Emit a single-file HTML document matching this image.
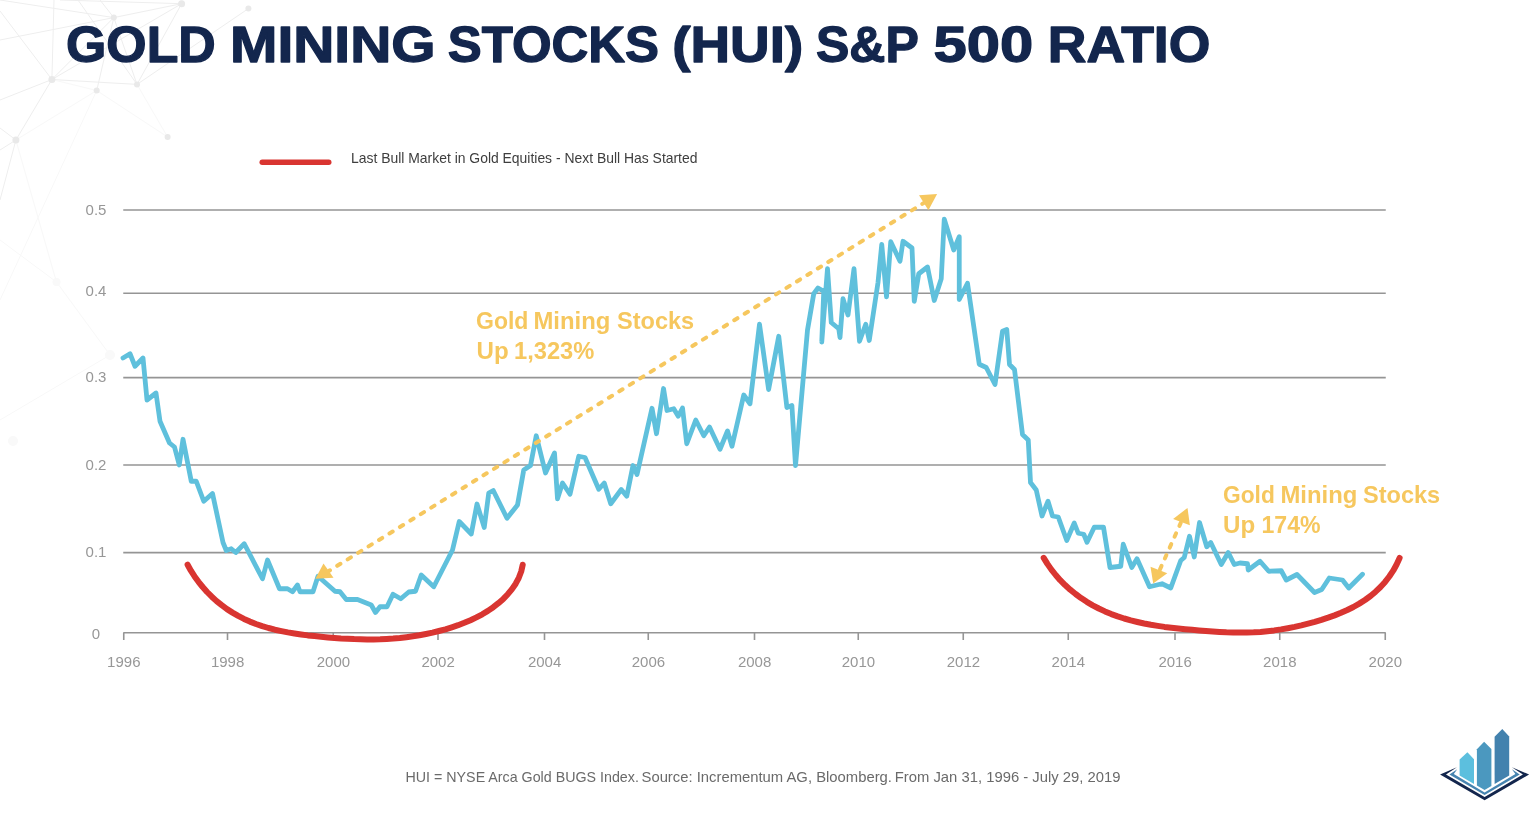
<!DOCTYPE html>
<html lang="en">
<head>
<meta charset="utf-8">
<title>Gold Mining Stocks (HUI) S&amp;P 500 Ratio</title>
<style>
html,body{margin:0;padding:0;background:#ffffff;}
body{width:1536px;height:817px;position:relative;overflow:hidden;font-family:"Liberation Sans",sans-serif;}
</style>
</head>
<body>
<svg width="1536" height="817" viewBox="0 0 1536 817" style="position:absolute;left:0;top:0">
<g stroke="#eeeeee" stroke-width="1" fill="none">
<line x1="181.6" y1="3.7" x2="113.8" y2="17.6"/>
<line x1="181.6" y1="3.7" x2="137.0" y2="84.4"/>
<line x1="181.6" y1="3.7" x2="51.9" y2="79.5"/>
<line x1="113.8" y1="17.6" x2="51.9" y2="79.5"/>
<line x1="113.8" y1="17.6" x2="137.0" y2="84.4"/>
<line x1="51.9" y1="79.5" x2="137.0" y2="84.4"/>
<line x1="51.9" y1="79.5" x2="15.9" y2="140.0"/>
<line x1="248.4" y1="8.6" x2="137.0" y2="84.4"/>
<line x1="113.8" y1="17.6" x2="96.7" y2="90.5"/>
<line x1="0.0" y1="11.0" x2="51.9" y2="79.5"/>
<line x1="0.0" y1="100.0" x2="51.9" y2="79.5"/>
<line x1="54.0" y1="0.0" x2="51.9" y2="79.5"/>
<line x1="0.0" y1="200.0" x2="15.9" y2="140.0"/>
<line x1="0.0" y1="128.0" x2="15.9" y2="140.0"/>
<line x1="0.0" y1="150.0" x2="15.9" y2="140.0"/>
<line x1="0.0" y1="0.0" x2="113.8" y2="17.6"/>
<line x1="100.0" y1="0.0" x2="113.8" y2="17.6"/>
<line x1="60.0" y1="0.0" x2="181.6" y2="3.7"/>
<line x1="0.0" y1="40.0" x2="113.8" y2="17.6"/>
<line x1="78.0" y1="0.0" x2="137.0" y2="84.4"/>
</g>
<g stroke="#f8f8f8" stroke-width="1" fill="none">
<line x1="96.7" y1="90.5" x2="167.6" y2="137.0"/>
<line x1="51.9" y1="79.5" x2="96.7" y2="90.5"/>
<line x1="15.9" y1="140.0" x2="96.7" y2="90.5"/>
<line x1="137.0" y1="84.4" x2="167.6" y2="137.0"/>
<line x1="96.7" y1="90.5" x2="0" y2="300"/><line x1="56.5" y1="282" x2="0" y2="240"/><line x1="56.5" y1="282" x2="110" y2="355"/><line x1="56.5" y1="282" x2="15.9" y2="140"/><line x1="0" y1="420" x2="110" y2="355"/>
</g>
<g fill="#e9e9e9">
<circle cx="181.6" cy="3.7" r="3.5"/>
<circle cx="248.4" cy="8.6" r="3.0"/>
<circle cx="113.8" cy="17.6" r="3.0"/>
<circle cx="51.9" cy="79.5" r="3.5"/>
<circle cx="15.9" cy="140.0" r="3.5"/>
<circle cx="137.0" cy="84.4" r="3.0"/>
<circle cx="167.6" cy="137.0" r="3.0"/>
<circle cx="96.7" cy="90.5" r="3.0"/>
</g>
<g fill="#f9f9f9"><circle cx="56.5" cy="282" r="4"/><circle cx="110" cy="355" r="5"/><circle cx="13" cy="441" r="5"/></g>
<g stroke="#959595" stroke-width="1.6">
<line x1="123.25" y1="210.00" x2="1385.75" y2="210.00"/>
<line x1="123.25" y1="293.20" x2="1385.75" y2="293.20"/>
<line x1="123.25" y1="377.60" x2="1385.75" y2="377.60"/>
<line x1="123.25" y1="465.00" x2="1385.75" y2="465.00"/>
<line x1="123.25" y1="552.60" x2="1385.75" y2="552.60"/>
<line x1="123.25" y1="632.80" x2="1385.75" y2="632.80"/>
<line x1="123.75" y1="632.8" x2="123.75" y2="640"/>
<line x1="227.50" y1="632.8" x2="227.50" y2="640"/>
<line x1="333.25" y1="632.8" x2="333.25" y2="640"/>
<line x1="438.00" y1="632.8" x2="438.00" y2="640"/>
<line x1="544.50" y1="632.8" x2="544.50" y2="640"/>
<line x1="648.25" y1="632.8" x2="648.25" y2="640"/>
<line x1="754.50" y1="632.8" x2="754.50" y2="640"/>
<line x1="858.25" y1="632.8" x2="858.25" y2="640"/>
<line x1="963.25" y1="632.8" x2="963.25" y2="640"/>
<line x1="1068.25" y1="632.8" x2="1068.25" y2="640"/>
<line x1="1175.00" y1="632.8" x2="1175.00" y2="640"/>
<line x1="1279.75" y1="632.8" x2="1279.75" y2="640"/>
<line x1="1385.25" y1="632.8" x2="1385.25" y2="640"/>
</g>
<g font-family="'Liberation Sans', sans-serif" font-size="15" fill="#979797">
<text x="96.0" y="215.2" text-anchor="middle">0.5</text>
<text x="96.0" y="296.1" text-anchor="middle">0.4</text>
<text x="96.0" y="382.3" text-anchor="middle">0.3</text>
<text x="96.0" y="469.8" text-anchor="middle">0.2</text>
<text x="96.0" y="557.2" text-anchor="middle">0.1</text>
<text x="96.0" y="638.7" text-anchor="middle">0</text>
<text x="123.8" y="666.8" text-anchor="middle">1996</text>
<text x="227.6" y="666.8" text-anchor="middle">1998</text>
<text x="333.4" y="666.8" text-anchor="middle">2000</text>
<text x="438.1" y="666.8" text-anchor="middle">2002</text>
<text x="544.6" y="666.8" text-anchor="middle">2004</text>
<text x="648.4" y="666.8" text-anchor="middle">2006</text>
<text x="754.6" y="666.8" text-anchor="middle">2008</text>
<text x="858.4" y="666.8" text-anchor="middle">2010</text>
<text x="963.4" y="666.8" text-anchor="middle">2012</text>
<text x="1068.3" y="666.8" text-anchor="middle">2014</text>
<text x="1175.1" y="666.8" text-anchor="middle">2016</text>
<text x="1279.8" y="666.8" text-anchor="middle">2018</text>
<text x="1385.3" y="666.8" text-anchor="middle">2020</text>
</g>
<polyline points="123,358 130,353.75 135,366.25 143,358 147,400 156,393 160,421.25 169.5,443 174.5,447 179.25,465 183,439.25 191.25,481.25 196.25,481.25 203.75,501.25 212.5,493.5 223,542.5 226.25,550.5 231.25,548.75 235.75,552.5 244.25,543.75 262.5,578.75 267.5,560 279.5,588.75 287.5,588.75 292.5,591.75 297.5,585 300,591.75 313,591.75 318,576.25 335,591.25 340,591.75 346.25,599.5 357.5,599.5 371.25,605 375.5,612.5 380,606.75 387,606.75 393,594.25 400.75,598.75 408.75,592 415.5,591.25 421.25,575 433.75,586.75 452.5,550 459.25,521.5 471.25,534 477,504 484.25,527.5 488.75,493 493.25,490.5 507,518.25 517.5,505 523.75,470 530.5,465.5 536.25,435.75 545.5,473 554.5,453 557.5,498.75 562.5,483 570,494.25 578.75,456.25 585,457.5 598.75,489.25 604.25,483 610.75,503.75 621.25,489.5 626.75,496.25 633,465.5 637,474.5 652,408.25 656.5,433.75 663.5,388.5 667,410.5 673.75,408.75 678.25,416.25 682.5,408 686.75,443.75 695.75,420 703.75,435.75 709.5,427 720,449.25 727.5,431 732,446.25 743.75,395 750,403.75 759.5,324.25 768.6,389.5 778.75,336.25 786.9,407.5 791.9,405.6 795.5,465.5 807.5,330 813.75,293.75 818,288 823.75,291.25 821.75,342 827.5,268.75 831.25,322.5 838.75,328.75 840,337.5 843,298.75 848,315 854,268.75 859.5,341.25 865.75,324.25 869.25,340.5 878,282.5 881.75,244.5 886.5,296.75 890.75,241.75 900,261.25 903,241.25 912,248 914.25,301.25 918.75,273.75 927.5,267 934.25,300.5 941.25,278.75 944.25,219.25 953.75,250 959.25,236.75 959.25,299.5 967.5,283.25 979.25,364.25 986.25,367.5 995,384.5 1002.5,331.25 1006.75,329.5 1009.5,364.5 1014.5,369.5 1022.5,434.5 1028.25,440 1030.5,482.5 1036.25,490 1042,516 1048,501.25 1052.5,516 1058.25,517 1066.75,540.5 1074.25,523 1078.25,533.25 1083.75,534.25 1087,542.25 1094.25,527.25 1103.5,527.25 1110,567.5 1120.75,566.25 1123.25,544.25 1131.75,567.5 1137,558.75 1149.5,586.75 1162,583.75 1170.75,588 1180.75,560.5 1184.25,557.5 1189.5,536.25 1194.25,557 1199.5,522.5 1206.75,546.75 1210.75,542.5 1221.25,564.5 1228.25,552.5 1234.25,564.5 1240,563 1247.5,563.75 1248.25,570 1260,561.25 1268.75,571.25 1281.25,570.75 1286.25,580 1297,574.5 1314.5,592.5 1321.75,589.5 1329.25,578 1342.5,580 1348.75,588 1362.5,574.25" fill="none" stroke="#5fc0dc" stroke-width="4.8" stroke-linejoin="round" stroke-linecap="round"/>
<g fill="none" stroke="#d93531" stroke-width="6" stroke-linecap="round" stroke-linejoin="round">
<path d="M187.6,564.7 L190.9,570.7 L194.6,576.4 L198.5,581.8 L202.7,587.0 L207.1,592.0 L211.8,596.7 L216.6,601.1 L221.7,605.2 L227.0,609.1 L232.5,612.6 L238.2,615.9 L244.0,618.9 L249.9,621.6 L256.0,624.0 L262.2,626.1 L268.5,628.0 L274.9,629.7 L281.4,631.1 L287.9,632.4 L294.5,633.5 L301.1,634.5 L307.8,635.4 L314.5,636.1 L321.1,636.8 L327.8,637.4 L334.4,637.9 L341.0,638.4 L347.5,638.7 L354.1,639.1 L360.6,639.3 L367.1,639.4 L373.6,639.4 L380.2,639.3 L386.7,639.0 L393.2,638.6 L399.8,638.0 L406.4,637.2 L412.9,636.3 L419.4,635.3 L426.0,634.0 L432.5,632.6 L438.9,631.0 L445.4,629.3 L451.8,627.3 L458.1,625.2 L464.3,622.8 L470.5,620.2 L476.4,617.4 L482.3,614.3 L487.9,610.9 L493.3,607.2 L498.4,603.2 L503.3,598.9 L507.8,594.2 L512.0,589.1 L515.7,583.7 L518.8,577.8 L521.2,571.5 L522.7,564.8"/>
<path d="M1043.7,557.9 L1047.4,563.9 L1051.4,569.6 L1055.7,575.0 L1060.2,580.2 L1065.1,585.1 L1070.2,589.7 L1075.6,594.0 L1081.1,598.1 L1086.8,601.8 L1092.7,605.3 L1098.8,608.5 L1105.0,611.4 L1111.3,614.1 L1117.7,616.4 L1124.2,618.5 L1130.8,620.4 L1137.4,622.0 L1144.1,623.5 L1150.9,624.8 L1157.7,625.9 L1164.5,626.9 L1171.4,627.7 L1178.3,628.5 L1185.2,629.2 L1192.1,629.8 L1199.0,630.4 L1205.9,631.0 L1212.7,631.5 L1219.6,631.9 L1226.4,632.3 L1233.2,632.5 L1240.1,632.6 L1246.9,632.5 L1253.7,632.3 L1260.5,631.9 L1267.4,631.2 L1274.2,630.4 L1281.0,629.4 L1287.8,628.2 L1294.6,626.9 L1301.3,625.4 L1308.1,623.7 L1314.8,621.9 L1321.4,619.9 L1328.1,617.7 L1334.6,615.4 L1341.0,612.8 L1347.3,610.0 L1353.4,607.0 L1359.3,603.6 L1365.0,600.0 L1370.5,596.0 L1375.6,591.7 L1380.5,587.0 L1385.1,581.9 L1389.3,576.5 L1393.2,570.7 L1396.6,564.5 L1399.6,557.9"/>
<line x1="262.2" y1="162.2" x2="328.8" y2="162.2" stroke-width="5.4"/>
</g>
<g stroke="#f6c75e" stroke-width="4" stroke-linecap="round" fill="none">
<line x1="326.77" y1="572.26" x2="925.2" y2="202.1" stroke-dasharray="3.8 8.485"/>
<line x1="1160.0" y1="569.35" x2="1180.8" y2="522.75" stroke-dasharray="3.8 8.1"/>
</g>
<g fill="#f6c75e">
<polygon points="315.4,578.7 323.5,563.4 333.5,577.7"/>
<polygon points="937.1,194.1 919,195.3 928.4,210.2"/>
<polygon points="1153.2,583.6 1150.5,566.7 1167.3,573.2"/>
<polygon points="1187.5,507.9 1173.1,518.9 1189.9,525.3"/>
</g>
<text x="66" y="62.4" font-family="'Liberation Sans', sans-serif" font-weight="bold" font-size="50.5" fill="#13264d" stroke="#13264d" stroke-width="1.3" stroke-linejoin="round" textLength="149.75" lengthAdjust="spacingAndGlyphs">GOLD</text>
<text x="230" y="62.4" font-family="'Liberation Sans', sans-serif" font-weight="bold" font-size="50.5" fill="#13264d" stroke="#13264d" stroke-width="1.3" stroke-linejoin="round" textLength="205.54" lengthAdjust="spacingAndGlyphs">MINING</text>
<text x="447.75" y="62.4" font-family="'Liberation Sans', sans-serif" font-weight="bold" font-size="50.5" fill="#13264d" stroke="#13264d" stroke-width="1.3" stroke-linejoin="round" textLength="211.31" lengthAdjust="spacingAndGlyphs">STOCKS</text>
<text x="672.25" y="62.4" font-family="'Liberation Sans', sans-serif" font-weight="bold" font-size="50.5" fill="#13264d" stroke="#13264d" stroke-width="1.3" stroke-linejoin="round" textLength="130.93" lengthAdjust="spacingAndGlyphs">(HUI)</text>
<text x="816" y="62.4" font-family="'Liberation Sans', sans-serif" font-weight="bold" font-size="50.5" fill="#13264d" stroke="#13264d" stroke-width="1.3" stroke-linejoin="round" textLength="102.83" lengthAdjust="spacingAndGlyphs">S&amp;P</text>
<text x="933.5" y="62.4" font-family="'Liberation Sans', sans-serif" font-weight="bold" font-size="50.5" fill="#13264d" stroke="#13264d" stroke-width="1.3" stroke-linejoin="round" textLength="99.63" lengthAdjust="spacingAndGlyphs">500</text>
<text x="1047.75" y="62.4" font-family="'Liberation Sans', sans-serif" font-weight="bold" font-size="50.5" fill="#13264d" stroke="#13264d" stroke-width="1.3" stroke-linejoin="round" textLength="162.69" lengthAdjust="spacingAndGlyphs">RATIO</text>
<text x="476.0" y="328.5" font-family="'Liberation Sans', sans-serif" font-weight="bold" font-size="23.7" fill="#f6c75e"  textLength="52.43" lengthAdjust="spacingAndGlyphs">Gold</text>
<text x="533.5" y="328.5" font-family="'Liberation Sans', sans-serif" font-weight="bold" font-size="23.7" fill="#f6c75e"  textLength="76.85" lengthAdjust="spacingAndGlyphs">Mining</text>
<text x="617" y="328.5" font-family="'Liberation Sans', sans-serif" font-weight="bold" font-size="23.7" fill="#f6c75e"  textLength="77.18" lengthAdjust="spacingAndGlyphs">Stocks</text>
<text x="476.5" y="359" font-family="'Liberation Sans', sans-serif" font-weight="bold" font-size="23.7" fill="#f6c75e"  textLength="32.14" lengthAdjust="spacingAndGlyphs">Up</text>
<text x="514.0" y="359" font-family="'Liberation Sans', sans-serif" font-weight="bold" font-size="23.7" fill="#f6c75e"  textLength="80.35" lengthAdjust="spacingAndGlyphs">1,323%</text>
<text x="1223.0" y="502.5" font-family="'Liberation Sans', sans-serif" font-weight="bold" font-size="23.7" fill="#f6c75e"  textLength="51.86" lengthAdjust="spacingAndGlyphs">Gold</text>
<text x="1280.5" y="502.5" font-family="'Liberation Sans', sans-serif" font-weight="bold" font-size="23.7" fill="#f6c75e"  textLength="76.86" lengthAdjust="spacingAndGlyphs">Mining</text>
<text x="1363.0" y="502.5" font-family="'Liberation Sans', sans-serif" font-weight="bold" font-size="23.7" fill="#f6c75e"  textLength="77.18" lengthAdjust="spacingAndGlyphs">Stocks</text>
<text x="1223.0" y="533" font-family="'Liberation Sans', sans-serif" font-weight="bold" font-size="23.7" fill="#f6c75e"  textLength="32.14" lengthAdjust="spacingAndGlyphs">Up</text>
<text x="1261.5" y="533" font-family="'Liberation Sans', sans-serif" font-weight="bold" font-size="23.7" fill="#f6c75e"  textLength="59.04" lengthAdjust="spacingAndGlyphs">174%</text>
<text x="351.0" y="162.5" font-family="'Liberation Sans', sans-serif" font-weight="normal" font-size="14.5" fill="#3e3e3e"  textLength="346.47" lengthAdjust="spacingAndGlyphs">Last Bull Market in Gold Equities - Next Bull Has Started</text>
<text x="405.5" y="782.0" font-family="'Liberation Sans', sans-serif" font-weight="normal" font-size="15" fill="#6a6a6a"  textLength="233.39" lengthAdjust="spacingAndGlyphs">HUI = NYSE Arca Gold BUGS Index.</text>
<text x="641.5" y="782.0" font-family="'Liberation Sans', sans-serif" font-weight="normal" font-size="15" fill="#6a6a6a"  textLength="250.43" lengthAdjust="spacingAndGlyphs">Source: Incrementum AG, Bloomberg.</text>
<text x="894.75" y="782.0" font-family="'Liberation Sans', sans-serif" font-weight="normal" font-size="15" fill="#6a6a6a"  textLength="225.69" lengthAdjust="spacingAndGlyphs">From Jan 31, 1996 - July 29, 2019</text>
<g>
<polygon fill="#5cbfde" points="1459.6,759.5 1467.4,752.2 1474,759.3 1474,784.06 1459.6,775.6"/>
<polygon fill="#4b98bf" points="1476.9,749.3 1484.1,741.7 1491.4,749 1491.4,785.9 1484.6,790 1476.9,785.6"/>
<polygon fill="#4382ae" points="1494.6,736.7 1502.3,729 1509.2,736.4 1509.2,775.6 1494.6,784.06"/>
<polygon fill="#13264d" points="1440.06,774.5 1456.9,767.2 1446,774.5 1484.6,796.9 1522.9,774.5 1511.9,767.2 1529.1,774.5 1484.6,800.3"/>
<polygon fill="#4684b0" points="1449.4,774.5 1457.25,769.25 1453.8,774.06 1484.6,792.5 1515.4,774.06 1511.9,769.25 1519.75,774.5 1484.6,795"/>
</g>
</svg>
</body>
</html>
